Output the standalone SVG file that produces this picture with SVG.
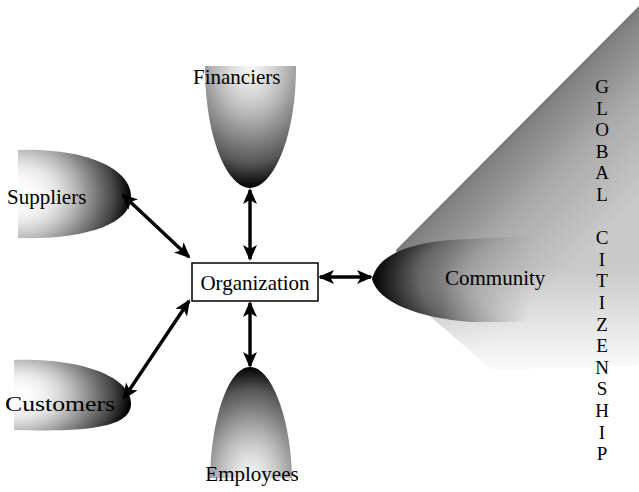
<svg xmlns="http://www.w3.org/2000/svg" width="639" height="492" viewBox="0 0 639 492">
<style>
.lbl{font-family:"Liberation Serif","Times New Roman",serif;font-size:21px;fill:#000}
.gc{font-family:"Liberation Serif","Times New Roman",serif;font-size:19px;fill:#000;text-anchor:middle}
.conn{stroke:#000;stroke-width:3.4;fill:none;marker-start:url(#ah);marker-end:url(#ah)}
</style>
<defs>
<marker id="ah" markerUnits="userSpaceOnUse" markerWidth="16" markerHeight="14" viewBox="0 0 16 14" refX="14" refY="7" orient="auto-start-reverse">
<path d="M0,0 L16,7 L0,14 L4,7 Z" fill="#000"/>
</marker>
<radialGradient id="gLeft" cx="0" cy="0.5" r="1">
<stop offset="0" stop-color="#fff" stop-opacity="0"/>
<stop offset="0.3" stop-color="#ddd" stop-opacity="0.6"/>
<stop offset="0.6" stop-color="#999"/>
<stop offset="0.85" stop-color="#444"/>
<stop offset="1" stop-color="#000"/>
</radialGradient>
<radialGradient id="gTop" cx="0.5" cy="0" r="1">
<stop offset="0" stop-color="#eee" stop-opacity="0.5"/>
<stop offset="0.45" stop-color="#aaa"/>
<stop offset="0.8" stop-color="#555"/>
<stop offset="1" stop-color="#000"/>
</radialGradient>
<radialGradient id="gBot" cx="0.5" cy="1" r="1">
<stop offset="0" stop-color="#eee" stop-opacity="0.5"/>
<stop offset="0.45" stop-color="#aaa"/>
<stop offset="0.8" stop-color="#555"/>
<stop offset="1" stop-color="#000"/>
</radialGradient>
<linearGradient id="gTri" gradientUnits="userSpaceOnUse" x1="505" y1="125" x2="610" y2="230">
<stop offset="0" stop-color="#505050"/>
<stop offset="0.1" stop-color="#808080"/>
<stop offset="0.5" stop-color="#ababab"/>
<stop offset="1" stop-color="#cacaca"/>
</linearGradient>
<linearGradient id="gFade" gradientUnits="userSpaceOnUse" x1="0" y1="270" x2="0" y2="378">
<stop offset="0" stop-color="#fff"/>
<stop offset="0.45" stop-color="#fff" stop-opacity="0.55"/>
<stop offset="1" stop-color="#fff" stop-opacity="0"/>
</linearGradient>
<mask id="mFade" maskUnits="userSpaceOnUse" x="0" y="0" width="639" height="492">
<rect x="0" y="0" width="639" height="492" fill="url(#gFade)"/>
</mask>
<linearGradient id="gCommH" gradientUnits="userSpaceOnUse" x1="372" y1="0" x2="530" y2="0">
<stop offset="0" stop-color="#fff"/>
<stop offset="0.45" stop-color="#fff"/>
<stop offset="1" stop-color="#fff" stop-opacity="0"/>
</linearGradient>
<mask id="mComm" maskUnits="userSpaceOnUse" x="0" y="0" width="639" height="492">
<rect x="0" y="0" width="639" height="492" fill="url(#gCommH)"/>
</mask>
<radialGradient id="gComm" cx="1" cy="0.5" r="1">
<stop offset="0" stop-color="#bbb"/>
<stop offset="0.4" stop-color="#999"/>
<stop offset="0.7" stop-color="#666"/>
<stop offset="0.9" stop-color="#222"/>
<stop offset="1" stop-color="#000"/>
</radialGradient>
</defs>

<g id="global-citizenship">
<path d="M639,6 L396,250 L405,298 C440,322 462,345 492,370 L639,366 Z" fill="url(#gTri)" mask="url(#mFade)"/>
<text class="gc"><tspan x="602" y="93">G</tspan><tspan x="602" y="114.6">L</tspan><tspan x="602" y="136.2">O</tspan><tspan x="602" y="157.8">B</tspan><tspan x="602" y="179.4">A</tspan><tspan x="602" y="201">L</tspan><tspan x="602" y="244.2">C</tspan><tspan x="602" y="265.8">I</tspan><tspan x="602" y="287.4">T</tspan><tspan x="602" y="309">I</tspan><tspan x="602" y="330.6">Z</tspan><tspan x="602" y="352.2">E</tspan><tspan x="602" y="373.8">N</tspan><tspan x="602" y="395.4">S</tspan><tspan x="602" y="417">H</tspan><tspan x="602" y="438.6">I</tspan><tspan x="602" y="460.2">P</tspan></text>
</g>

<g id="community">
<path d="M372,279 C378,256 405,244 450,240 L530,236 L530,322 L470,322 C420,318 378,303 372,279 Z" fill="url(#gComm)" mask="url(#mComm)"/>
<text class="lbl" x="445" y="285">Community</text>
</g>

<g id="financiers">
<path d="M205,66 C205,140 228,188 250,188 C272,188 296,140 296,66 Z" fill="url(#gTop)"/>
<text class="lbl" x="193" y="84">Financiers</text>
</g>

<g id="suppliers">
<path d="M18,150 C85,148 131,168 131,197 C131,224 85,240 18,238 Z" fill="url(#gLeft)"/>
<text class="lbl" x="7" y="204">Suppliers</text>
</g>

<g id="customers">
<path d="M14,360 C85,358 131,378 131,404 C131,428 85,432 14,430 Z" fill="url(#gLeft)"/>
<text class="lbl" x="5" y="411" style="font-size:22px" textLength="110" lengthAdjust="spacingAndGlyphs">Customers</text>
</g>

<g id="employees">
<path d="M250,367 C228,367 211,420 210,478 L292,478 C291,420 272,367 250,367 Z" fill="url(#gBot)"/>
<text class="lbl" x="252" y="481" text-anchor="middle">Employees</text>
</g>

<g id="organization">
<rect x="192" y="263" width="126" height="38" fill="#fff" stroke="#000" stroke-width="1.5"/>
<text class="lbl" x="255" y="290" text-anchor="middle">Organization</text>
</g>

<g id="connectors">
<line class="conn" x1="250" y1="190" x2="250" y2="259"/>
<line class="conn" x1="250" y1="303" x2="250" y2="366"/>
<line class="conn" x1="320" y1="277" x2="371" y2="277"/>
<line class="conn" x1="123" y1="195" x2="189" y2="257"/>
<line class="conn" x1="124" y1="398" x2="189" y2="301"/>
</g>
</svg>
